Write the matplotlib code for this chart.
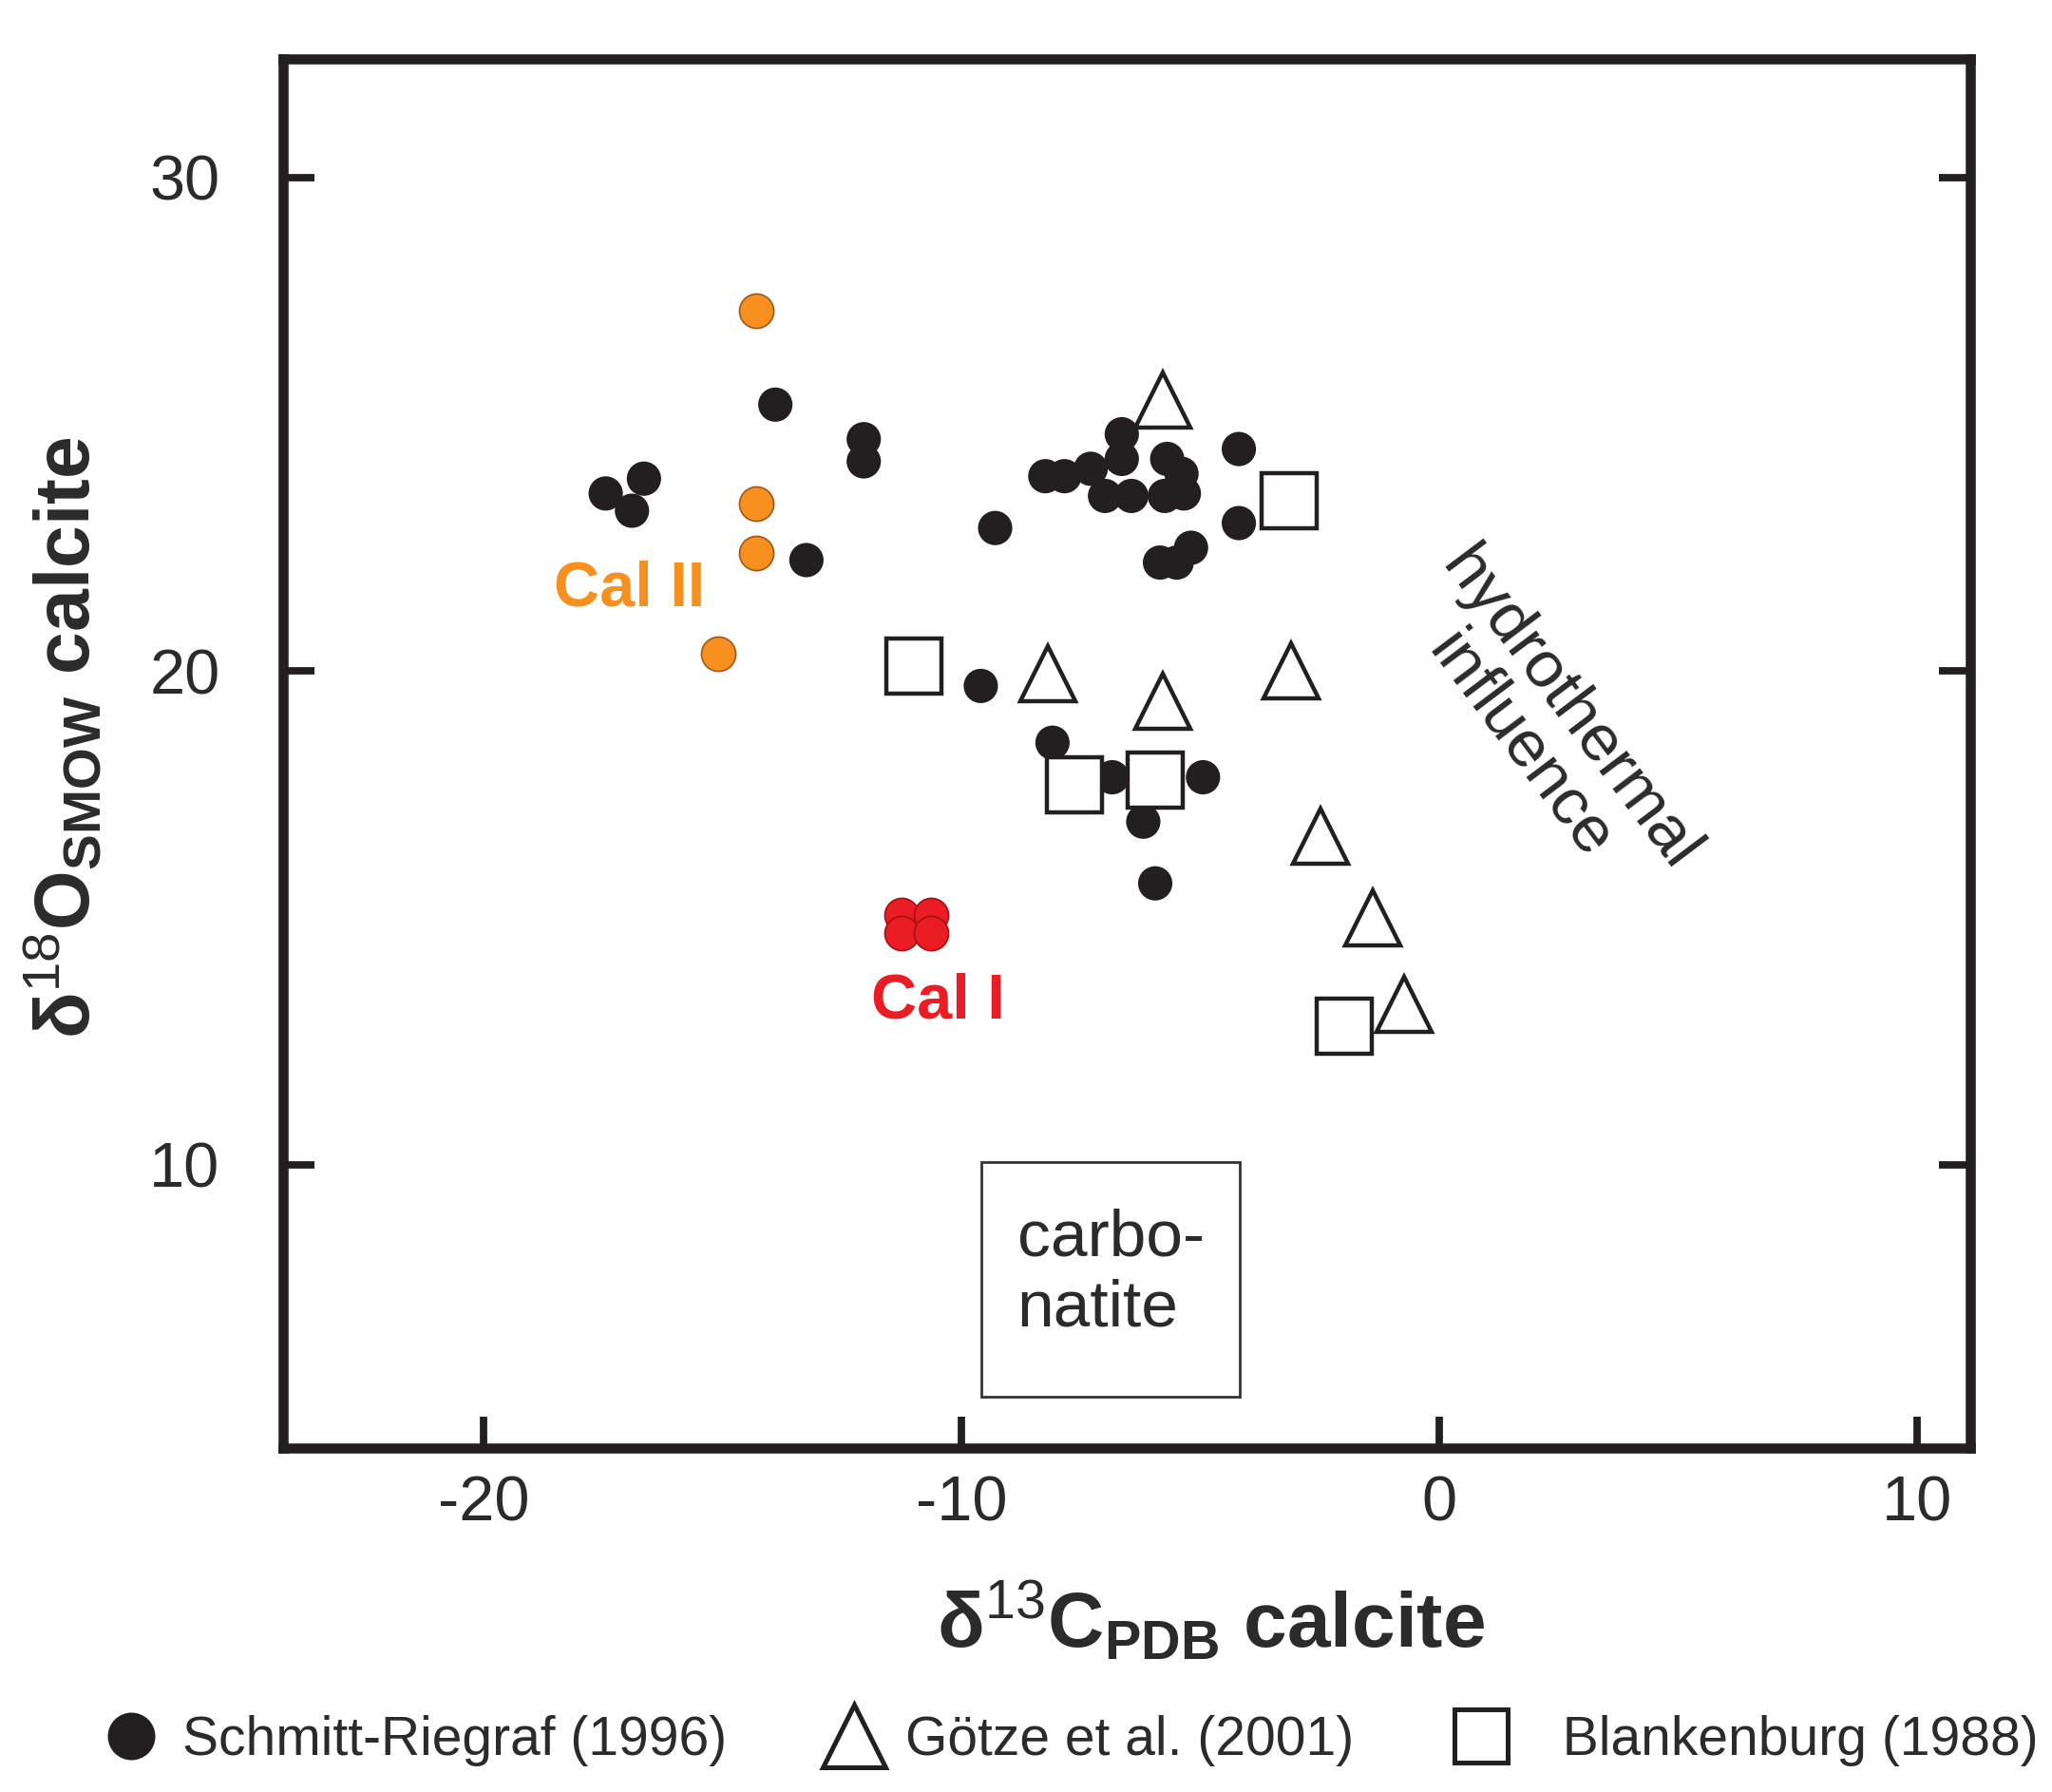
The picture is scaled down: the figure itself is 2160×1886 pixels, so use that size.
import matplotlib.pyplot as plt
from matplotlib.lines import Line2D
from matplotlib.patches import Rectangle

plt.rcParams["font.family"] = ["Liberation Sans", "DejaVu Sans"]
plt.rcParams["mathtext.fontset"] = "custom"
plt.rcParams["mathtext.rm"] = "Liberation Sans"
plt.rcParams["mathtext.bf"] = "Liberation Sans:bold"
plt.rcParams["mathtext.it"] = "Liberation Sans:italic"
plt.rcParams["axes.unicode_minus"] = False

# Schmitt-Riegraf (1996), filled circles
sr_c13 = [-17.45, -16.9, -16.65, -13.9, -13.25, -12.05, -12.05, -9.3, -8.25, -7.85,
          -7.3, -6.65, -6.65, -7.0, -6.45, -5.7, -5.4, -5.75, -5.35, -4.2,
          -4.2, -5.2, -5.85, -5.5, -9.6, -8.1, -6.85, -4.95, -6.2, -5.95]
sr_o18 = [23.6, 23.25, 23.9, 25.4, 22.25, 24.7, 24.25, 22.9, 23.95, 23.95,
          24.1, 24.8, 24.3, 23.55, 23.55, 24.3, 24.0, 23.55, 23.6, 24.5,
          23.0, 22.5, 22.2, 22.2, 19.7, 18.55, 17.85, 17.85, 16.95, 15.7]

# Cal II (orange) and Cal I (red)
cal2_c13 = [-14.3, -14.3, -14.3, -15.1]
cal2_o18 = [27.3, 23.4, 22.4, 20.35]
cal1_c13 = [-11.25, -10.65, -11.25, -10.65]
cal1_o18 = [15.05, 15.05, 14.7, 14.7]

# Goetze et al. (2001), open triangles
gz_c13 = [-5.8, -8.2, -5.8, -3.1, -2.5, -1.4, -0.75]
gz_o18 = [25.5, 19.95, 19.4, 20.0, 16.65, 15.0, 13.25]

# Blankenburg (1988), open squares
bl_c13 = [-3.15, -11.0, -7.65, -5.95, -2.0]
bl_o18 = [23.45, 20.1, 17.7, 17.8, 12.8]

# carbonatite field
carb_x = [-9.58, -4.18]
carb_y = [5.3, 10.05]

fig = plt.figure(figsize=(10.8, 9.43), dpi=200)
ax = fig.add_axes([0.138, 0.1917, 0.822, 0.7753])

ink = "#231f20"
ax.scatter(sr_c13, sr_o18, s=13**2, color=ink, edgecolors="none", zorder=3)
ax.scatter(cal2_c13, cal2_o18, s=13**2, color="#f7901e", edgecolors="#a0561a",
           linewidths=0.6, zorder=3)
ax.scatter(cal1_c13, cal1_o18, s=13**2, color="#ec1c24", edgecolors="#a01218",
           linewidths=0.6, zorder=3)
ax.plot(gz_c13, gz_o18, ls="none", marker="^", ms=21, mfc="white", mec=ink,
        mew=1.6, zorder=4)
ax.plot(bl_c13, bl_o18, ls="none", marker="s", ms=21, mfc="white", mec=ink,
        mew=1.6, zorder=4)

ax.add_patch(Rectangle((carb_x[0], carb_y[0]), carb_x[1] - carb_x[0],
                       carb_y[1] - carb_y[0], fill=False, ec="#333333", lw=1.0))
ax.text(sum(carb_x) / 2, sum(carb_y) / 2 + 0.12, "carbo-\nnatite", fontsize=25,
        ha="center", va="center", multialignment="left", color="#2b2b2b",
        linespacing=1.2)

ax.text(-16.95, 21.65, "Cal II", fontsize=24, fontweight="bold", color="#f7901e",
        ha="center", va="center")
ax.text(-10.5, 13.3, "Cal I", fontsize=24, fontweight="bold", color="#ec1c24",
        ha="center", va="center")
ax.text(2.2, 18.85, "hydrothermal\ninfluence", fontsize=25, rotation=-53,
        ha="center", va="center", color="#2b2b2b", rotation_mode="anchor",
        linespacing=1.0)

ax.set_xlim(-24.2, 11.1)
ax.set_ylim(4.25, 32.4)
ax.set_xticks([-20, -10, 0, 10])
ax.set_yticks([10, 20, 30])
for sp in ax.spines.values():
    sp.set_linewidth(3.8)
    sp.set_color(ink)
ax.tick_params(axis="both", direction="in", length=12, width=2.8, color=ink,
               labelsize=24, labelcolor="#2b2b2b")
ax.tick_params(axis="x", pad=10)
ax.tick_params(axis="y", pad=24, right=True)

ax.set_xlabel(r"δ$^{13}$C$_{\mathbf{PDB}}$ calcite", fontsize=29.5,
              fontweight="bold", color="#2b2b2b")
ax.xaxis.set_label_coords(0.55, -0.095)
ax.set_ylabel(r"δ$^{18}$O$_{\mathbf{SMOW}}$ calcite", fontsize=29,
              fontweight="bold", color="#2b2b2b")
ax.yaxis.set_label_coords(-0.105, 0.512)

handles = [
    Line2D([], [], ls="none", marker="o", ms=17, color=ink),
    Line2D([], [], ls="none", marker="^", ms=24, mfc="white", mec=ink, mew=1.8),
    Line2D([], [], ls="none", marker="s", ms=20, mfc="white", mec=ink, mew=1.8),
]
labels = ["Schmitt-Riegraf (1996)", "Götze et al. (2001)", "  Blankenburg (1988)"]
fig.legend(handles, labels, loc="lower center", bbox_to_anchor=(0.522, -0.013),
           ncol=3, frameon=False, fontsize=20.5, handlelength=1.0,
           handletextpad=0.45, columnspacing=1.85, labelcolor="#2b2b2b")

fig.savefig("out.png", dpi=200)
